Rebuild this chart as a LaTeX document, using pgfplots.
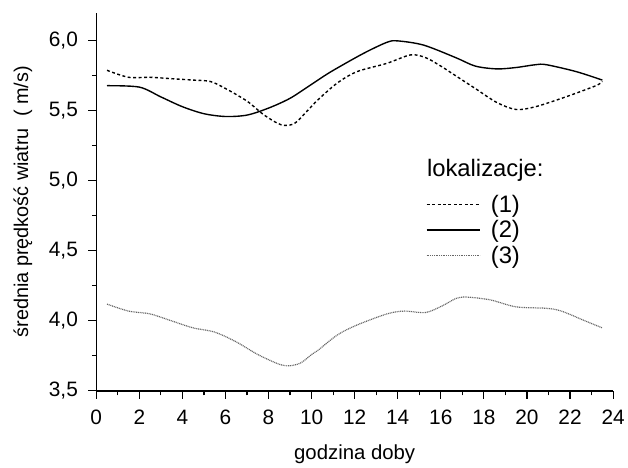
\documentclass[border=0pt]{standalone}
\usepackage{pgfplots}
\pgfplotsset{compat=1.18}
\usepackage{fontspec}
\setmainfont{Liberation Sans}
\begin{document}
\begin{tikzpicture}
\begin{axis}[
  scale only axis, width=521pt, height=381pt,
  xmin=0, xmax=24, ymin=3.5, ymax=6.2,
  axis lines=left, axis line style={-, line width=1.4pt},
  tick align=outside, tick style={line width=1.2pt, black},
  major tick length=8pt, minor tick length=4.5pt,
  xtick={0,2,...,24}, minor xtick={1,3,...,23},
  ytick={3.5,4,4.5,5,5.5,6}, minor ytick={3.75,4.25,4.75,5.25,5.75},
  /pgf/number format/assume math mode=true,
  ticklabel style={font=\fontsize{21}{21}\selectfont},
  xticklabel style={yshift=-8pt},
  yticklabel style={xshift=-7pt, /pgf/number format/fixed, /pgf/number format/fixed zerofill, /pgf/number format/precision=1, /pgf/number format/use comma},
  xlabel={godzina doby},
  ylabel={średnia prędkość wiatru\ \ ( m/s)},
  every axis x label/.style={at={(rel axis cs:0.5,0)}, anchor=center, yshift=-64pt, font=\fontsize{20.5}{20.5}\selectfont},
  every axis y label/.style={at={(rel axis cs:0,0.5)}, anchor=center, rotate=90, yshift=74pt, font=\fontsize{20}{20}\selectfont},
  clip=false,
  legend image code/.code={\draw[#1] (0pt,0pt) -- (54pt,0pt);},
  legend style={at={(axis cs:15.3,4.65)}, anchor=west, draw=none, fill=none,
    font=\fontsize{24}{24}\selectfont, row sep=5pt, column sep=9pt, inner sep=0pt,
    nodes={inner sep=1pt}},
  legend cell align=left,
]
\addplot[smooth, black, line width=1.4pt, dash pattern=on 3pt off 2.5pt] coordinates {
(0.5,5.79)(1.5,5.74)(2.5,5.74)(3.5,5.73)(4.5,5.72)(5.3,5.71)(6,5.66)(7,5.57)(7.8,5.47)(8.6,5.40)(9.2,5.41)(9.8,5.50)(10.3,5.58)(11.2,5.70)(12.1,5.78)(13.5,5.84)(14.6,5.90)(15.3,5.88)(16.0,5.82)(16.7,5.75)(17.6,5.66)(18.6,5.56)(19.5,5.51)(20.4,5.53)(21.8,5.60)(23.2,5.68)(23.5,5.71)
};
\addlegendentry{(1)}
\addplot[smooth, black, line width=1.4pt] coordinates {
(0.5,5.68)(2,5.67)(3,5.60)(4,5.53)(5,5.48)(6,5.46)(7,5.47)(8,5.52)(9,5.59)(10,5.69)(10.9,5.78)(12.4,5.91)(13.5,5.99)(14,6.00)(15.2,5.97)(16.7,5.88)(17.6,5.82)(18.6,5.80)(19.5,5.81)(20.4,5.83)(20.9,5.83)(22.3,5.78)(23.5,5.72)
};
\addlegendentry{(2)}
\addplot[smooth, black!60, line width=1.2pt, dash pattern=on 1pt off 0.8pt] coordinates {
(0.5,4.12)(1.5,4.07)(2.5,4.05)(3.5,4.00)(4.5,3.95)(5.5,3.92)(6.5,3.85)(7.5,3.76)(8.5,3.69)(9,3.68)(9.5,3.70)(10,3.76)(10.3,3.79)(11.2,3.90)(12.1,3.97)(13.5,4.05)(14.3,4.07)(15.3,4.06)(16.1,4.11)(16.7,4.16)(17.2,4.17)(18.3,4.15)(19.5,4.10)(20.9,4.09)(21.6,4.07)(22.7,4.00)(23.5,3.95)
};
\addlegendentry{(3)}
\node[anchor=base west, inner sep=0pt, font=\fontsize{24}{24}\selectfont] at (axis cs:15.35,5.032) {lokalizacje:};
\path (rel axis cs:0,0) ++(-97pt,-70pt) coordinate (bbA);
\path (rel axis cs:1,1) ++(10pt,13pt) coordinate (bbB);
\end{axis}
\path[use as bounding box] (bbA) rectangle (bbB);
\end{tikzpicture}
\end{document}
